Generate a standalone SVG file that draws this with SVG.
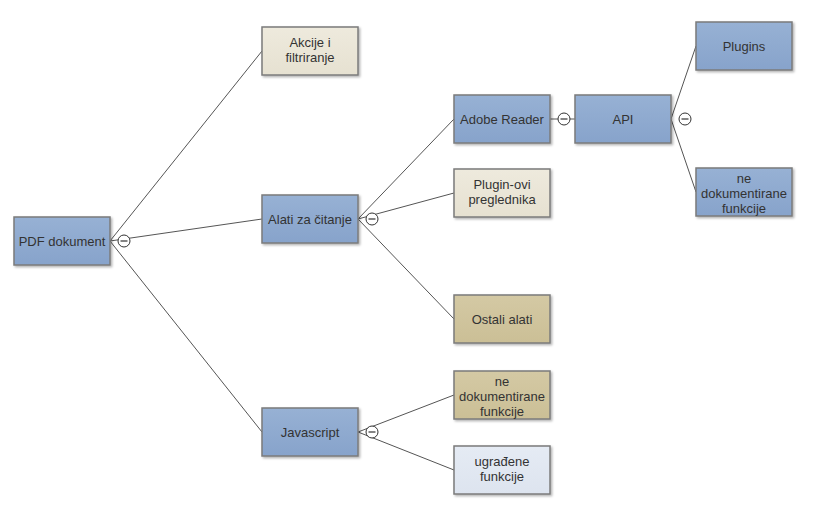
<svg xmlns="http://www.w3.org/2000/svg" width="835" height="527" viewBox="0 0 835 527">
<defs>
<linearGradient id="gBlue" x1="0" y1="0" x2="0" y2="1"><stop offset="0" stop-color="#97b1d4"/><stop offset="1" stop-color="#87a3cb"/></linearGradient>
<linearGradient id="gBeige" x1="0" y1="0" x2="0" y2="1"><stop offset="0" stop-color="#eeeadd"/><stop offset="1" stop-color="#e6e1d1"/></linearGradient>
<linearGradient id="gTan" x1="0" y1="0" x2="0" y2="1"><stop offset="0" stop-color="#d4c9a4"/><stop offset="1" stop-color="#cbbf96"/></linearGradient>
<linearGradient id="gLight" x1="0" y1="0" x2="0" y2="1"><stop offset="0" stop-color="#e5ebf4"/><stop offset="1" stop-color="#dde4ef"/></linearGradient>
<filter id="sh" x="-10%" y="-10%" width="130%" height="130%"><feDropShadow dx="1.5" dy="1.5" stdDeviation="1" flood-color="#000" flood-opacity="0.3"/></filter>
</defs>
<style>
.n rect{stroke:#7b7b7b;stroke-width:1.5;filter:url(#sh)}
.blue rect{fill:url(#gBlue)}
.beige rect{fill:url(#gBeige)}
.tan rect{fill:url(#gTan)}
.light rect{fill:url(#gLight)}
.n text{font-family:"Liberation Sans",Arial,sans-serif;font-size:13px;fill:#333;text-anchor:middle}
.c line{stroke:#555;stroke-width:1;fill:none}
.t circle{fill:#fff;stroke:#333;stroke-width:1}
.t line{stroke:#333;stroke-width:1.2}
</style>
<rect width="835" height="527" fill="#fff"/>
<g id="connectors" class="c">
<line x1="110" y1="241" x2="262" y2="51"/>
<line x1="110" y1="241" x2="262" y2="219"/>
<line x1="110" y1="241" x2="262" y2="432"/>
<line x1="358" y1="219" x2="454" y2="119"/>
<line x1="358" y1="219" x2="454" y2="193"/>
<line x1="358" y1="219" x2="454" y2="319"/>
<line x1="550" y1="119" x2="575" y2="119"/>
<line x1="671" y1="119" x2="696" y2="46"/>
<line x1="671" y1="119" x2="696" y2="192"/>
<line x1="358" y1="432" x2="454" y2="395"/>
<line x1="358" y1="432" x2="454" y2="470"/>
</g>
<g id="toggles" class="t">
<circle cx="124" cy="241" r="6"/><line x1="120.5" y1="241" x2="127.5" y2="241"/>
<circle cx="372" cy="219" r="6"/><line x1="368.5" y1="219" x2="375.5" y2="219"/>
<circle cx="564" cy="119" r="6"/><line x1="560.5" y1="119" x2="567.5" y2="119"/>
<circle cx="685" cy="119" r="6"/><line x1="681.5" y1="119" x2="688.5" y2="119"/>
<circle cx="372" cy="432" r="6"/><line x1="368.5" y1="432" x2="375.5" y2="432"/>
</g>
<g id="pdf" class="n blue"><rect x="14" y="217" width="96" height="48"/><text x="62" y="246">PDF dokument</text></g>
<g id="akcije" class="n beige"><rect x="262" y="27" width="96" height="48"/><text x="310" y="47">Akcije i</text><text x="310" y="62">filtriranje</text></g>
<g id="alati" class="n blue"><rect x="262" y="195" width="96" height="48"/><text x="310" y="224">Alati za čitanje</text></g>
<g id="javascript" class="n blue"><rect x="262" y="408" width="96" height="48"/><text x="310" y="437">Javascript</text></g>
<g id="adobe" class="n blue"><rect x="454" y="95" width="96" height="48"/><text x="502" y="124">Adobe Reader</text></g>
<g id="api" class="n blue"><rect x="575" y="95" width="96" height="48"/><text x="623" y="124">API</text></g>
<g id="plugins" class="n blue"><rect x="696" y="22" width="96" height="48"/><text x="744" y="51">Plugins</text></g>
<g id="apindf" class="n blue"><rect x="696" y="168" width="96" height="48"/><text x="744" y="183">ne</text><text x="744" y="198">dokumentirane</text><text x="744" y="213">funkcije</text></g>
<g id="pluginovi" class="n beige"><rect x="454" y="169" width="96" height="48"/><text x="502" y="189">Plugin-ovi</text><text x="502" y="204">preglednika</text></g>
<g id="ostali" class="n tan"><rect x="454" y="295" width="96" height="48"/><text x="502" y="324">Ostali alati</text></g>
<g id="jsndf" class="n tan"><rect x="454" y="371" width="96" height="48"/><text x="502" y="386">ne</text><text x="502" y="401">dokumentirane</text><text x="502" y="416">funkcije</text></g>
<g id="ugradjene" class="n light"><rect x="454" y="446" width="96" height="48"/><text x="502" y="466">ugrađene</text><text x="502" y="481">funkcije</text></g>
</svg>
